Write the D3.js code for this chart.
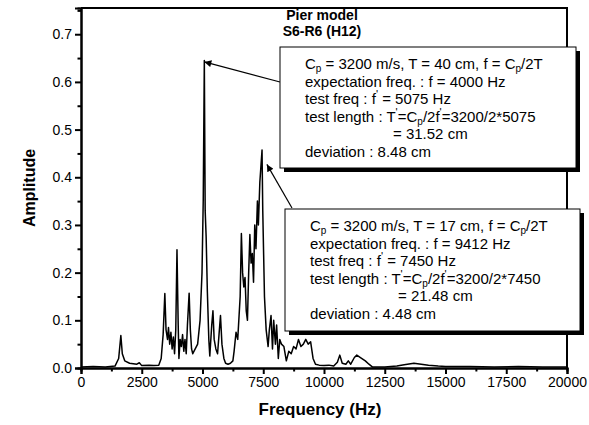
<!DOCTYPE html>
<html>
<head>
<meta charset="utf-8">
<script src="https://cdn.jsdelivr.net/npm/d3@7"></script>
<style>
  body { margin: 0; background: #fff; }
  svg { display: block; font-family: Arial, "Liberation Sans", sans-serif; }
</style>
</head>
<body>
<script>
'use strict';

// spectrum
const freqHz = [0, 500, 1000, 1400, 1550, 1640, 1700, 1800, 2000, 2300, 2400, 2500, 2800, 3000, 3200,
  3300, 3380, 3450, 3500, 3560, 3600, 3650, 3700, 3750, 3800, 3850, 3900, 3950, 4000, 4030, 4080,
  4130, 4180, 4230, 4280, 4330, 4380, 4450, 4500, 4550, 4600, 4700, 4800, 4900, 4980, 5030, 5075,
  5110, 5150, 5200, 5260, 5300, 5380, 5430, 5480, 5550, 5620, 5680, 5740, 5800, 5880, 5950, 6050,
  6150, 6250, 6300, 6380, 6450, 6550, 6600, 6650, 6700, 6750, 6800, 6850, 6900, 6950, 7000, 7050,
  7100, 7150, 7200, 7260, 7300, 7360, 7450, 7480, 7550, 7620, 7700, 7750, 7820, 7880, 7930, 8000,
  8050, 8120, 8180, 8250, 8350, 8450, 8550, 8650, 8750, 8850, 8950, 9050, 9150, 9250, 9350, 9450,
  9550, 9650, 9800, 10000, 10200, 10400, 10550, 10650, 10750, 10900, 11000, 11100, 11250, 11350,
  11500, 11700, 11850, 12000, 12500, 13000, 13300, 13700, 14000, 14300, 14700, 15000, 16000, 17000,
  18000, 19000, 20000];
const amplitude = [0.002, 0.003, 0.002, 0.004, 0.02, 0.068, 0.03, 0.015, 0.01, 0.008, 0.011, 0.005, 0.006, 0.005, 0.006,
  0.02, 0.07, 0.156, 0.08, 0.06, 0.085, 0.05, 0.075, 0.04, 0.065, 0.03, 0.08, 0.248, 0.09, 0.02, 0.06,
  0.045, 0.07, 0.035, 0.06, 0.03, 0.09, 0.157, 0.08, 0.04, 0.03, 0.04, 0.05, 0.1, 0.2, 0.35, 0.645,
  0.33, 0.275, 0.16, 0.06, 0.025, 0.09, 0.12, 0.06, 0.04, 0.03, 0.07, 0.11, 0.05, 0.02, 0.01, 0.008,
  0.01, 0.015, 0.035, 0.075, 0.06, 0.15, 0.282, 0.2, 0.17, 0.19, 0.12, 0.1, 0.2, 0.28, 0.22, 0.24,
  0.18, 0.3, 0.25, 0.35, 0.3, 0.39, 0.457, 0.33, 0.15, 0.08, 0.045, 0.08, 0.11, 0.04, 0.1, 0.05,
  0.09, 0.02, 0.06, 0.05, 0.045, 0.015, 0.035, 0.03, 0.045, 0.04, 0.06, 0.045, 0.05, 0.06, 0.05, 0.055,
  0.02, 0.008, 0.006, 0.005, 0.006, 0.004, 0.012, 0.027, 0.01, 0.008, 0.015, 0.008, 0.022, 0.027,
  0.022, 0.015, 0.008, 0.002, 0.002, 0.004, 0.007, 0.01, 0.008, 0.006, 0.004, 0.003, 0.003, 0.002,
  0.003, 0.002, 0.002];

const xTicks = [0, 2500, 5000, 7500, 10000, 12500, 15000, 17500, 20000];
const yTicks = [0.0, 0.1, 0.2, 0.3, 0.4, 0.5, 0.6, 0.7];
const titleLines = ["Pier model", "S6-R6 (H12)"];

// annotation points the arrows aim at (freq, amplitude)
const arrowFreq = [5075, 7650];
const arrowAmp = [0.642, 0.427];

// annotation text, "_p" marks subscript p, "'" marks prime
const box1Lines = [
  "C_p = 3200 m/s, T = 40 cm, f = C_p/2T",
  "expectation freq. : f = 4000 Hz",
  "test freq : f' = 5075 Hz",
  "test length : T'=C_p/2f'=3200/2*5075",
  "= 31.52 cm",
  "deviation : 8.48 cm"
];
const box2Lines = [
  "C_p = 3200 m/s, T = 17 cm, f = C_p/2T",
  "expectation freq. : f = 9412 Hz",
  "test freq : f' = 7450 Hz",
  "test length : T'=C_p/2f'=3200/2*7450",
  "= 21.48 cm",
  "deviation : 4.48 cm"
];

(function() {

  let svgContainer = "";

  window.onload = function() {
    svgContainer = d3.select('body')
      .append('svg')
      .attr('width', 589)
      .attr('height', 425);

    let map = drawTicks();
    plotData(map);
    makeBoxes(map);
    makeLabels();
  }

  // axes, minor ticks and the frame
  function drawTicks() {
    let xScale = d3.scaleLinear().domain([0, 20000]).range([81, 567]);
    let yScale = d3.scaleLinear().domain([0, 0.755]).range([368, 8]);

    // minor ticks first
    let xMinor = xTicks.slice(0, -1).map((d) => d + 1250);
    svgContainer.append('g')
      .attr('class', 'axis')
      .attr('transform', 'translate(0, 368)')
      .call(d3.axisBottom(xScale).tickValues(xMinor).tickSize(3.5).tickFormat(''));
    let yMinor = yTicks.map((d) => d + 0.05);
    svgContainer.append('g')
      .attr('class', 'axis')
      .attr('transform', 'translate(81, 0)')
      .call(d3.axisLeft(yScale).tickValues(yMinor).tickSize(3.5).tickFormat(''));

    svgContainer.append('g')
      .attr('class', 'axis')
      .attr('transform', 'translate(0, 368)')
      .call(d3.axisBottom(xScale).tickValues(xTicks).tickSize(6).tickPadding(3).tickFormat(d3.format('d')));
    svgContainer.append('g')
      .attr('class', 'axis')
      .attr('transform', 'translate(81, 0)')
      .call(d3.axisLeft(yScale).tickValues(yTicks).tickSize(6).tickPadding(3).tickFormat(d3.format('.1f')));

    svgContainer.selectAll('.axis path').attr('stroke', '#000').attr('stroke-width', 2);
    svgContainer.selectAll('.axis line').attr('stroke', '#000').attr('stroke-width', 2);
    svgContainer.selectAll('.axis text')
      .attr('fill', '#000')
      .style('font-size', '14px')
      .style('font-family', 'Arial, "Liberation Sans", sans-serif');

    // top and right frame
    svgContainer.append('path')
      .attr('d', 'M' + xScale(0) + ',' + yScale(0.755) + 'H' + xScale(20000) + 'V' + yScale(0))
      .attr('fill', 'none')
      .attr('stroke', '#000')
      .attr('stroke-width', 2);

    return { x: xScale, y: yScale };
  }

  function plotData(map) {
    let pts = freqHz.map((f, i) => [f, amplitude[i]]);
    let line = d3.line()
      .x((d) => map.x(d[0]))
      .y((d) => map.y(d[1]));
    svgContainer.append('path')
      .datum(pts)
      .attr('d', line)
      .attr('fill', 'none')
      .attr('stroke', '#000')
      .attr('stroke-width', 1.5)
      .attr('stroke-linejoin', 'round');
  }

  // write a line with subscript p and primes, shifting with dy
  function writeLine(g, str, x, y) {
    let text = g.append('text')
      .attr('x', x)
      .attr('y', y)
      .style('font-size', '15px');
    let parts = str.split(/(_p|')/).filter((p) => p !== '');
    let shift = 0; // current offset from the baseline
    parts.forEach((p) => {
      let target = 0;
      let size = null;
      let txt = p;
      if (p === '_p') { target = 3; size = '10px'; txt = 'p'; }
      if (p === "'") { target = -6; size = '11px'; txt = "'"; }
      let ts = text.append('tspan').attr('dy', target - shift).text(txt);
      if (size) ts.style('font-size', size);
      shift = target;
    });
  }

  function makeBoxes(map) {
    let defs = svgContainer.append('defs');
    defs.append('marker')
      .attr('id', 'head')
      .attr('viewBox', '0 0 10 10')
      .attr('refX', 10)
      .attr('refY', 5)
      .attr('markerWidth', 10)
      .attr('markerHeight', 7)
      .attr('markerUnits', 'userSpaceOnUse')
      .attr('orient', 'auto')
      .append('path')
      .attr('d', 'M0,0L10,5L0,10z')
      .attr('fill', '#000');

    let boxes = [
      { x: 280, y: 47, w: 296, h: 121, lines: box1Lines, from: [280, 82] },
      { x: 285, y: 209, w: 295, h: 122, lines: box2Lines, from: [292, 208] }
    ];

    boxes.forEach((b, i) => {
      svgContainer.append('line')
        .attr('x1', b.from[0])
        .attr('y1', b.from[1])
        .attr('x2', map.x(arrowFreq[i]))
        .attr('y2', map.y(arrowAmp[i]))
        .attr('stroke', '#000')
        .attr('stroke-width', 1.2)
        .attr('marker-end', 'url(#head)');

      let g = svgContainer.append('g');
      g.append('rect')
        .attr('x', b.x + 4).attr('y', b.y + 4)
        .attr('width', b.w).attr('height', b.h)
        .attr('fill', '#000');
      g.append('rect')
        .attr('x', b.x).attr('y', b.y)
        .attr('width', b.w).attr('height', b.h)
        .attr('fill', '#fff')
        .attr('stroke', '#000')
        .attr('stroke-width', 1);
      b.lines.forEach((ln, k) => {
        // the result line is indented under the formula
        let indent = (k === 4) ? 113 : 25;
        writeLine(g, ln, b.x + indent, b.y + 22 + k * 17.6);
      });
    });
  }

  function makeLabels() {
    titleLines.forEach((t, i) => {
      svgContainer.append('text')
        .attr('x', 322)
        .attr('y', 20 + i * 16)
        .attr('text-anchor', 'middle')
        .style('font-size', '14px')
        .style('font-weight', 'bold')
        .text(t);
    });

    svgContainer.append('text')
      .attr('x', 320)
      .attr('y', 415)
      .attr('text-anchor', 'middle')
      .style('font-size', '17px')
      .style('font-weight', 'bold')
      .text('Frequency (Hz)');

    svgContainer.append('text')
      .attr('transform', 'translate(35, 188)rotate(-90)')
      .attr('text-anchor', 'middle')
      .style('font-size', '16px')
      .style('font-weight', 'bold')
      .text('Amplitude');
  }

})();
</script>
</body>
</html>
